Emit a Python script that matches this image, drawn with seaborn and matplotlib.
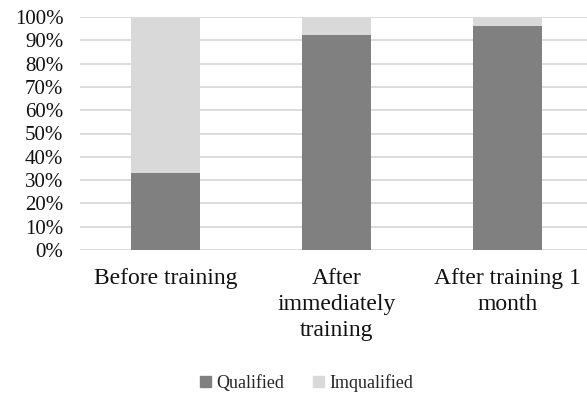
import matplotlib
matplotlib.use("Agg")
import matplotlib.pyplot as plt
import seaborn as sn
import pandas as pd
from matplotlib.ticker import PercentFormatter
from matplotlib.patches import Patch

# data
categories = ["Before training", "After\nimmediately\ntraining", "After training 1\nmonth"]
qualified = [0.332, 0.923, 0.963]
imqualified = [1 - q for q in qualified]
y_ticks = [i / 10 for i in range(11)]

dark = "#808080"
light = "#d9d9d9"

df = pd.DataFrame({
    "category": categories,
    "qualified": qualified,
    "total": [q + i for q, i in zip(qualified, imqualified)],
})

sn.set_style("white")
plt.rcParams["font.family"] = ["Liberation Serif", "DejaVu Serif"]

fig = plt.figure(figsize=(5.87, 3.94), dpi=100)
ax = fig.add_axes([80 / 587, 1 - 250 / 394, 507 / 587, 233 / 394])

# stacked: draw total first (light), then qualified on top (dark)
sn.barplot(data=df, x="category", y="total", color=light, width=0.4,
           saturation=1, linewidth=0, ax=ax, zorder=2)
sn.barplot(data=df, x="category", y="qualified", color=dark, width=0.4,
           saturation=1, linewidth=0, ax=ax, zorder=3)

ax.set_xlim(-0.5, 2.465)
ax.set_ylim(0, 1)
ax.set_yticks(y_ticks)
ax.yaxis.set_major_formatter(PercentFormatter(1.0, decimals=0))
ax.grid(axis="y", color=light, linewidth=1.3, zorder=0)
ax.set_axisbelow(True)
for s in ax.spines.values():
    s.set_visible(False)
ax.set_xlabel("")
ax.set_ylabel("")
ax.tick_params(axis="y", length=0, pad=12, labelsize=15, labelcolor="#111111")
ax.tick_params(axis="x", length=0, pad=13, labelsize=17, labelcolor="#111111")
for t in ax.get_xticklabels():
    t.set_verticalalignment("top")
    t.set_linespacing(1.32)

handles = [Patch(color=dark, label="Qualified"), Patch(color=light, label="Imqualified")]
fig.legend(handles=handles, loc="center", bbox_to_anchor=(307 / 587, 1 - 383 / 394),
           ncol=2, frameon=False, fontsize=13, handlelength=0.6, handleheight=0.6,
           handletextpad=0.3, columnspacing=1.6)

fig.savefig("out.png", dpi=100)
